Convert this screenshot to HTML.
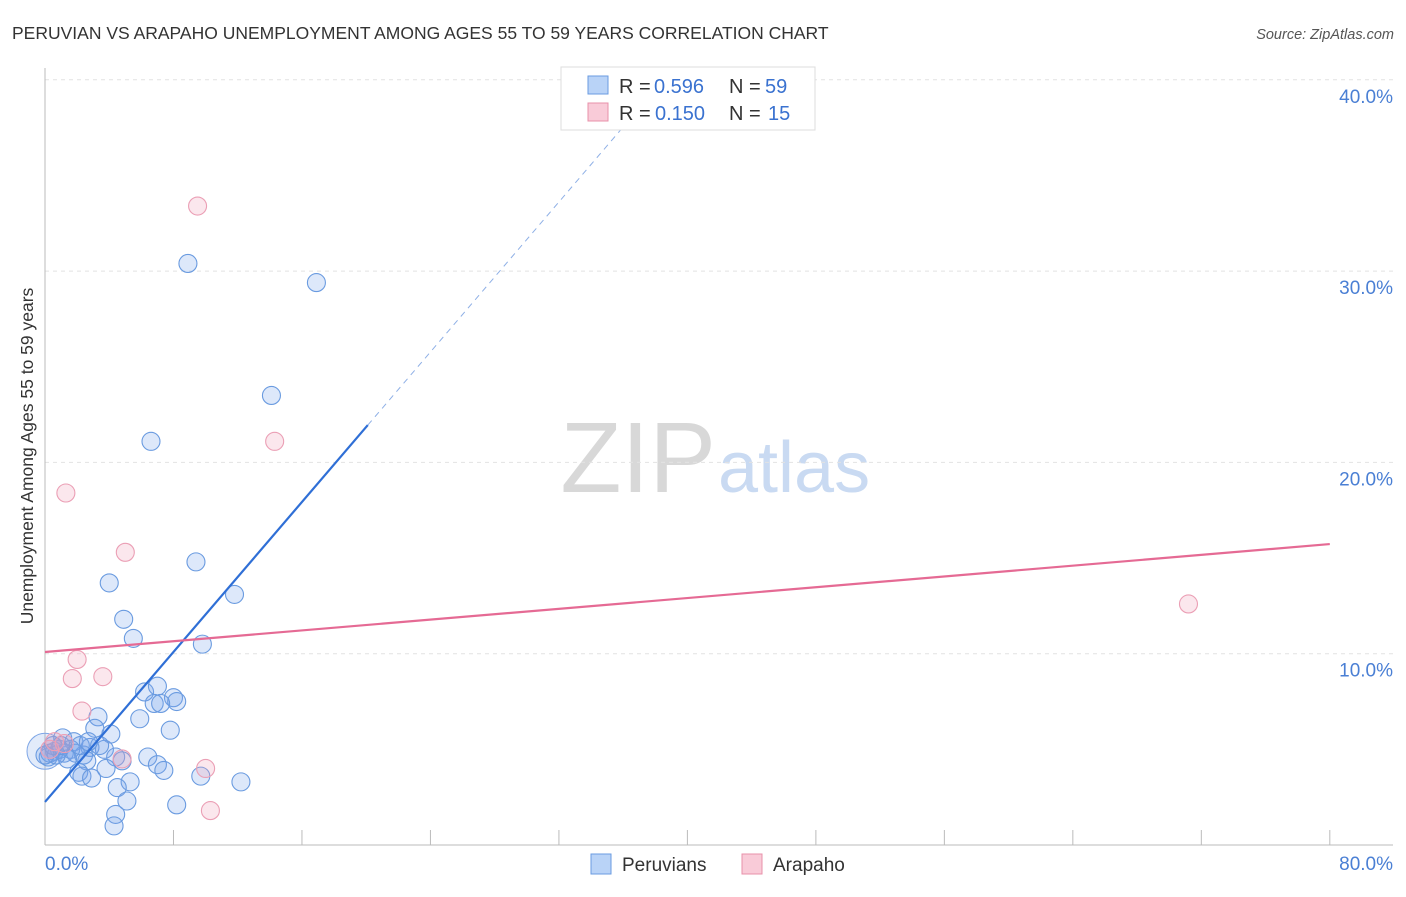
<!DOCTYPE html>
<html><head><meta charset="utf-8"><style>
body{margin:0;background:#fff;font-family:"Liberation Sans",sans-serif}
svg text{font-family:"Liberation Sans",sans-serif}
</style></head><body>
<svg id="c" width="1406" height="892" xmlns="http://www.w3.org/2000/svg">
<text x="12" y="39" font-size="17.5" fill="#333">PERUVIAN VS ARAPAHO UNEMPLOYMENT AMONG AGES 55 TO 59 YEARS CORRELATION CHART</text>
<text x="1394" y="39" font-size="14.5" fill="#555" font-style="italic" text-anchor="end">Source: ZipAtlas.com</text>
<text x="716" y="492" font-size="100" fill="#d8d8d8" font-family="Liberation Serif" text-anchor="end">ZIP</text>
<text x="718" y="492" font-size="72" fill="#c9daf2">atlas</text>
<text transform="translate(33,456) rotate(-90)" font-size="17.5" fill="#333" text-anchor="middle">Unemployment Among Ages 55 to 59 years</text>
<g id="grid"></g><g id="marks"></g>
<g>
<rect x="561" y="67" width="254" height="63" fill="#fff" stroke="#ddd"/>
<rect x="588" y="76" width="20" height="18" fill="#b9d3f7" stroke="#6a9be0"/>
<text x="619" y="93" font-size="20" fill="#333">R =</text>
<text x="654" y="93" font-size="20" fill="#3a72d0">0.596</text>
<text x="729" y="93" font-size="20" fill="#333">N =</text>
<text x="765" y="93" font-size="20" fill="#3a72d0">59</text>
<rect x="588" y="103" width="20" height="18" fill="#f9cbd8" stroke="#e890aa"/>
<text x="619" y="120" font-size="20" fill="#333">R =</text>
<text x="655" y="120" font-size="20" fill="#3a72d0">0.150</text>
<text x="729" y="120" font-size="20" fill="#333">N =</text>
<text x="768" y="120" font-size="20" fill="#3a72d0">15</text>
</g>
<g>
<rect x="591" y="854" width="20" height="20" fill="#b9d3f7" stroke="#6a9be0"/>
<text x="622" y="871" font-size="19" fill="#333">Peruvians</text>
<rect x="742" y="854" width="20" height="20" fill="#f9cbd8" stroke="#e890aa"/>
<text x="773" y="871" font-size="19" fill="#333">Arapaho</text>
</g>
</svg>
<script>
const yTicks=[10,20,30,40];
const xTickLabels=["0.0%","80.0%"];
const blueX=[8.9,16.9,14.1,6.6,9.4,4.0,11.8,4.9,5.5,9.8,6.2,7.0,8.0,8.2,6.8,7.2,5.9,3.3,7.8,4.1,3.1,1.1,1.8,2.8,3.7,4.4,6.4,7.0,7.4,4.8,3.8,2.4,2.6,2.1,2.3,2.9,5.3,12.2,9.7,4.5,5.1,8.2,4.4,4.3,0.6,0.3,0.9,0.2,1.6,1.2,1.9,1.4,3.4,2.2,2.7,0.7,1.0,0.5,0.0];
const blueY=[30.4,29.4,23.5,21.1,14.8,13.7,13.1,11.8,10.8,10.5,8.0,8.3,7.7,7.5,7.4,7.4,6.6,6.7,6.0,5.8,6.1,5.6,5.4,5.1,5.0,4.6,4.6,4.2,3.9,4.4,4.0,4.7,4.4,3.8,3.6,3.5,3.3,3.3,3.6,3.0,2.3,2.1,1.6,1.0,4.9,4.8,5.0,4.6,5.0,4.8,4.8,4.5,5.2,5.2,5.4,4.7,5.2,5.2,4.7];
const pinkX=[9.5,14.3,1.3,5.0,2.0,1.7,3.6,2.3,0.6,1.2,4.8,10.0,10.3,71.2,0.3];
const pinkY=[33.4,21.1,18.4,15.3,9.7,8.7,8.8,7.0,5.4,5.3,4.5,4.0,1.8,12.6,5.0];
const blueLine=[0,2.25,20.1,21.95,36.4];
const pinkLine=[0,10.09,80,15.73];
const X=v=>45+v*16.06, Y=v=>845-v*19.13;
const NS="http://www.w3.org/2000/svg";
function mk(t,a,p){const e=document.createElementNS(NS,t);for(const k in a)e.setAttribute(k,a[k]);p.appendChild(e);return e;}
const g=document.getElementById('grid'),m=document.getElementById('marks');
yTicks.forEach(t=>{
 const l=mk('line',{x1:45,x2:1393,y1:Y(t),y2:Y(t),stroke:'#e2e2e2','stroke-dasharray':'4,4'},g);
 
 
 const tx=mk('text',{x:1393,y:Y(t)+23,'font-size':19,fill:'#4a7fd4','text-anchor':'end'},g);tx.textContent=t.toFixed(1)+'%';
 
 
});
const ax=mk('line',{x1:45,x2:1393,y1:845,y2:845,stroke:'#bbb'},g);


const ay=mk('line',{x1:45,x2:45,y1:68,y2:845,stroke:'#bbb'},g);


for(let i=1;i<=10;i++){const t=mk('line',{x1:X(i*8),x2:X(i*8),y1:830,y2:845,stroke:'#bbb'},g);
 
 }
[[0,'start',45],[80,'end',1393]].forEach((d,i)=>{const t=mk('text',{x:d[2],y:870,'font-size':19,fill:'#4a7fd4','text-anchor':d[1]},g);t.textContent=xTickLabels[i];
 
 });
const big=mk('circle',{cx:X(0),cy:Y(4.9),r:18,fill:'rgba(110,155,230,0.2)',stroke:'#7ea6e6'},m);


blueX.forEach((v,i)=>{const c=mk('circle',{cx:X(v),cy:Y(blueY[i]),r:9,fill:'rgba(120,165,235,0.25)',stroke:'#6a9be0','stroke-width':1.1},m);
 
 });
pinkX.forEach((v,i)=>{const c=mk('circle',{cx:X(v),cy:Y(pinkY[i]),r:9,fill:'rgba(240,160,185,0.25)',stroke:'#eb9fb5','stroke-width':1.1},m);
 
 });
const sl=(blueLine[3]-blueLine[1])/(blueLine[2]-blueLine[0]);
const bl=mk('line',{x1:X(blueLine[0]),y1:Y(blueLine[1]),x2:X(blueLine[2]),y2:Y(blueLine[3]),stroke:'#2f6fd6','stroke-width':2.2},m);


const bd=mk('line',{x1:X(blueLine[2]),y1:Y(blueLine[3]),x2:X(blueLine[4]),y2:Y(blueLine[1]+sl*blueLine[4]),stroke:'#8fb0e6','stroke-width':1,'stroke-dasharray':'6,5'},m);


const pl=mk('line',{x1:X(pinkLine[0]),y1:Y(pinkLine[1]),x2:X(pinkLine[2]),y2:Y(pinkLine[3]),stroke:'#e56a94','stroke-width':2.2},m);


</script>
</body></html>
